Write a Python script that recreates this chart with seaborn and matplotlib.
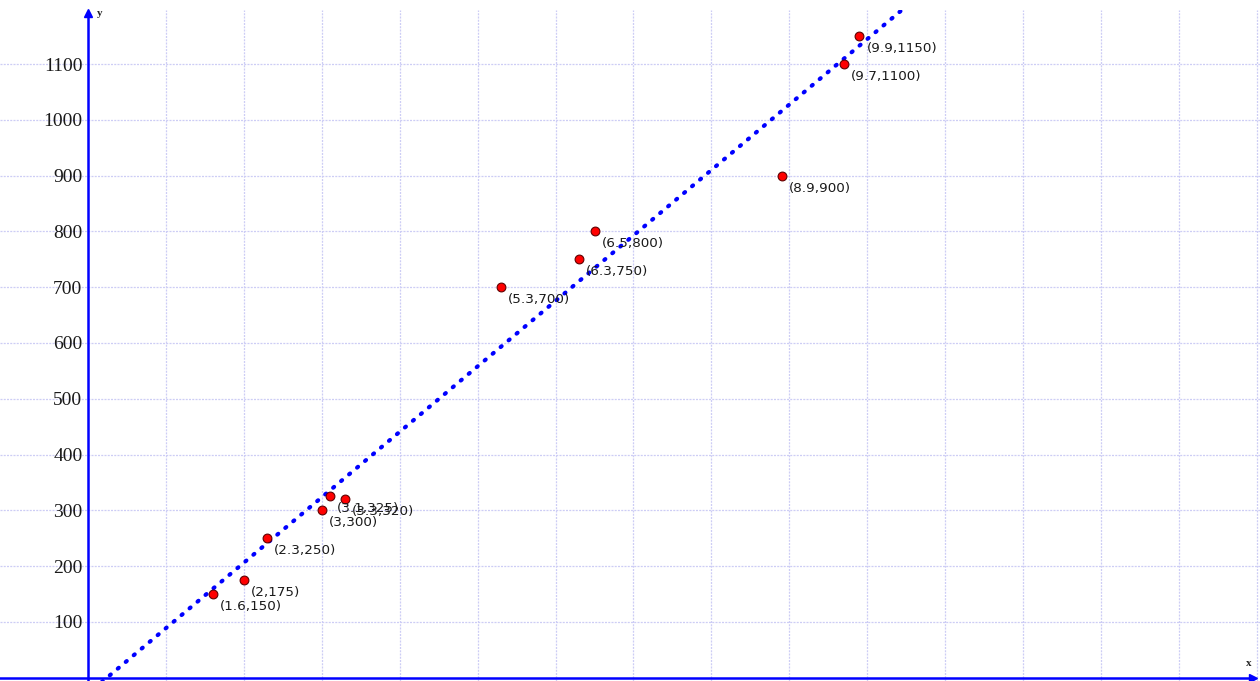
import numpy as np
import pandas as pd
import matplotlib
matplotlib.use("Agg")
import matplotlib.pyplot as plt
import seaborn as sns

# Data
x_vals = [1.6, 2, 2.3, 3, 3.1, 3.3, 5.3, 6.3, 6.5, 8.9, 9.7, 9.9]
y_vals = [150, 175, 250, 300, 325, 320, 700, 750, 800, 900, 1100, 1150]
y_ticks = [100, 200, 300, 400, 500, 600, 700, 800, 900, 1000, 1100]
x_ticks = list(range(1, 16))

df = pd.DataFrame({"x": x_vals, "y": y_vals})

sns.set_style("white")
plt.rcParams['font.family'] = ['DejaVu Sans']

fig = plt.figure(figsize=(12.6, 6.81), dpi=100)
ax = fig.add_axes([0, 0, 1, 671 / 681])

XMIN, XMAX = -1.129, 15.04
YMIN, YMAX = -6, 1197
ax.set_xlim(XMIN, XMAX)
ax.set_ylim(YMIN, YMAX)

# grid
grid_kw = dict(color="#cdcdf5", lw=0.9, ls=(0, (1.6, 1.0)), zorder=0)
for gx in range(1, 16):
    ax.axvline(gx, **grid_kw)
for gy in range(100, 1200, 100):
    ax.axhline(gy, **grid_kw)

# regression line
sns.regplot(data=df, x="x", y="y", ax=ax, scatter=False, ci=None, truncate=False,
            line_kws=dict(color="#0000ff", lw=3, ls=(0, (0.3, 2.2)),
                          dash_capstyle="round", zorder=3))

# points
sns.scatterplot(data=df, x="x", y="y", ax=ax, color="#ff0000", edgecolor="#600000",
                linewidth=0.8, s=40, zorder=4, legend=False)

for xv, yv in zip(x_vals, y_vals):
    ax.annotate(f"({xv:g},{yv:g})", (xv, yv), xytext=(5, -9), textcoords="offset points",
                ha="left", va="center", fontsize=9.7, color="#1a1a1a", zorder=5)

# axes through origin
for s in ["top", "right"]:
    ax.spines[s].set_visible(False)
ax.spines["left"].set_position(("data", 0))
ax.spines["bottom"].set_position(("data", 0))
ax.spines["left"].set_color("#0000ff")
ax.spines["bottom"].set_color("#0000ff")
ax.spines["left"].set_linewidth(1.8)
ax.spines["bottom"].set_linewidth(1.8)
ax.spines["left"].set_bounds(YMIN, 1192)
ax.spines["bottom"].set_bounds(XMIN, 14.95)
ax.plot([0], [1192], marker="^", color="#0000ff", ms=6, clip_on=False, zorder=6)
ax.plot([14.95], [0], marker=">", color="#0000ff", ms=6, clip_on=False, zorder=6)

ax.set_yticks(y_ticks)
ax.set_yticklabels([str(t) for t in y_ticks], family="Liberation Serif", fontsize=14,
                   color="#1a1a1a")
ax.set_xticks(x_ticks)
ax.set_xticklabels([])
ax.tick_params(axis="y", direction="out", length=4, width=1, color="#0000ff", pad=0)
ax.tick_params(axis="x", direction="inout", length=6, width=1, color="#0000ff")
ax.set_xlabel("")
ax.set_ylabel("")

ax.text(0.12, 1190, "y", family="Liberation Serif", fontsize=8, fontweight="bold",
        ha="left", va="center", color="#222222")
ax.text(14.93, 18, "x", family="Liberation Serif", fontsize=8, fontweight="bold",
        ha="right", va="bottom", color="#222222")

fig.savefig("out.png", dpi=100)
